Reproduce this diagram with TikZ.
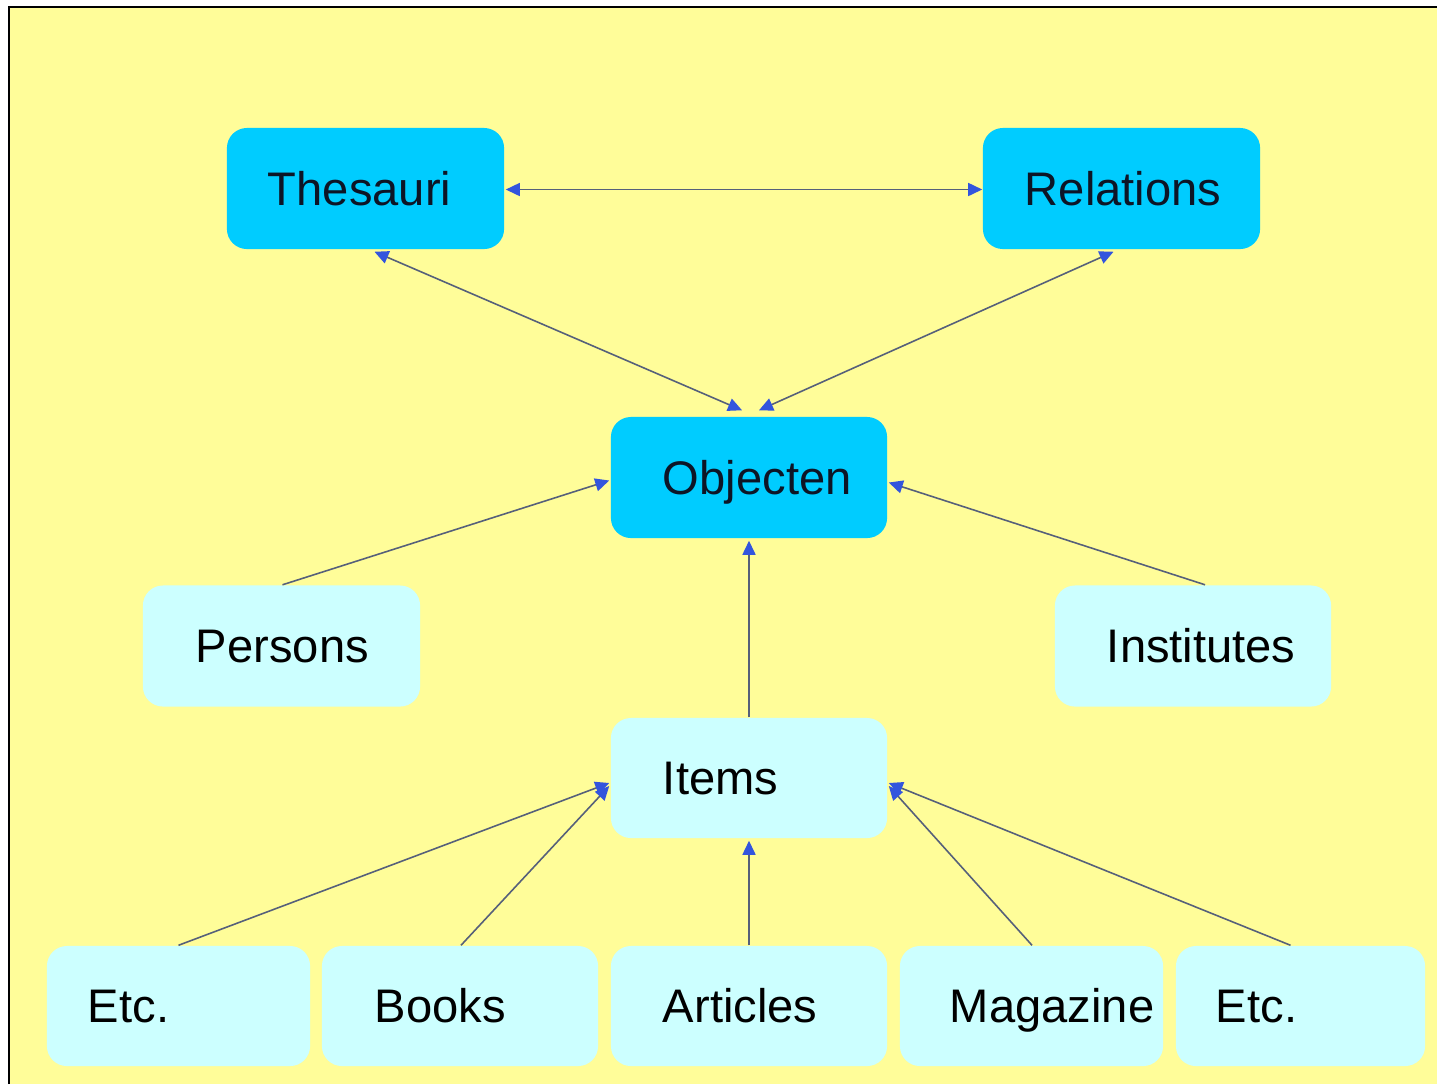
\documentclass[tikz,border=0pt]{standalone}
\usepackage{fontspec}
\setmainfont{Liberation Sans}
\usetikzlibrary{arrows.meta,calc}
\definecolor{bgyellow}{HTML}{FFFD99}
\definecolor{darkcyan}{HTML}{00CCFF}
\definecolor{lightcyan}{HTML}{CCFFFF}
\definecolor{tipblue}{HTML}{3355DD}
\definecolor{linegray}{HTML}{56607A}
\definecolor{navytext}{HTML}{0D1526}
\tikzset{
  boxbase/.style={rounded corners=0.2cm, inner xsep=0pt, inner ysep=0pt,
    minimum height=1.21cm, align=left,
    font=\fontsize{13.4}{16}\selectfont, text height=0.716em+0.08cm, text depth=0pt},
  darkbox/.style={boxbase, fill=darkcyan, text=navytext},
  lightbox/.style={boxbase, fill=lightcyan, text=black},
  conn/.style={draw=linegray, line width=0.45pt,
    -{Triangle[length=0.14cm,width=0.13cm,color=tipblue]}},
  conn2/.style={draw=linegray, line width=0.45pt,
    {Triangle[length=0.14cm,width=0.13cm,color=tipblue]}-{Triangle[length=0.14cm,width=0.13cm,color=tipblue]}}
}
\begin{document}
\begin{tikzpicture}[x=0.01cm,y=-0.01cm]
\useasboundingbox (0,0) rectangle (1437,1084);
\fill[white] (0,0) rectangle (1437,1084);
\fill[bgyellow] (9,7) rectangle (1437,1084);
\draw[black,line width=0.6pt] (9,1084) -- (9,7) -- (1437,7);

% top row
\node[darkbox, text width=2.77cm] (thes) at (365.5,188.5) {\hspace*{0.41cm}Thesauri};
\node[darkbox, text width=2.77cm] (rel) at (1121.5,188.5) {\hspace*{0.42cm}Relations};
% centre
\node[darkbox, text width=2.76cm] (obj) at (749,477.5) {\hspace*{0.52cm}Objecten};
% middle row
\node[lightbox, text width=2.77cm] (pers) at (281.5,646) {\hspace*{0.53cm}Persons};
\node[lightbox, text width=2.76cm] (inst) at (1193,646) {\hspace*{0.52cm}Institutes};
\node[lightbox, text width=2.76cm, minimum height=1.2cm] (items) at (749,778) {\hspace*{0.52cm}Items};
% bottom row
\node[lightbox, text width=2.63cm, minimum height=1.2cm] (etca) at (178.5,1006) {\hspace*{0.41cm}Etc.};
\node[lightbox, text width=2.76cm, minimum height=1.2cm] (books) at (460,1006) {\hspace*{0.53cm}Books};
\node[lightbox, text width=2.76cm, minimum height=1.2cm] (art) at (749,1006) {\hspace*{0.52cm}Articles};
\node[lightbox, text width=2.63cm, minimum height=1.2cm] (mag) at (1031.5,1006) {\hspace*{0.50cm}Magazine};
\node[lightbox, text width=2.49cm, minimum height=1.2cm] (etcb) at (1300.5,1006) {\hspace*{0.40cm}Etc.};

% connectors
\draw[conn2] ($(thes.east)+(1,1)$) -- ($(rel.west)+(0,1)$);
\draw[conn2] ($(thes.south)+(9,2)$) -- ($(obj.north)+(-7,-6)$);
\draw[conn2] ($(rel.south)+(-8,2)$) -- ($(obj.north)+(10,-6)$);
\draw[conn] ($(pers.north)+(1,0)$) -- ($(obj.west)+(-1,3)$);
\draw[conn] ($(inst.north)+(12,0)$) -- ($(obj.east)+(1,5)$);
\draw[conn] (items.north) -- ($(obj.south)+(0,2)$);
\draw[conn] (etca.north) -- ($(items.west)+(-1,5)$);
\draw[conn] ($(books.north)+(1,0)$) -- ($(items.west)+(-1,8)$);
\draw[conn] (art.north) -- ($(items.south)+(0,2)$);
\draw[conn] ($(mag.north)+(0.5,0)$) -- ($(items.east)+(1,8)$);
\draw[conn] ($(etcb.north)+(-10,0)$) -- ($(items.east)+(1,5)$);
\end{tikzpicture}
\end{document}
